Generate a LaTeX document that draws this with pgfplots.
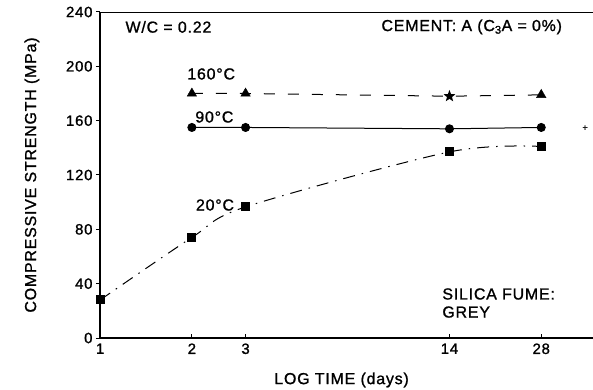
\documentclass[border=0pt]{standalone}
\usepackage{pgfplots}
\pgfplotsset{compat=1.18}
\usepackage{fontspec}
\setmainfont{Liberation Sans}[LetterSpace=5, FakeBold=1.2]
\pgfdeclareplotmark{fstar}{%
  \pgfpathmoveto{\pgfpointpolar{90}{1.3\pgfplotmarksize}}%
  \pgfpathlineto{\pgfpointpolar{126}{0.55\pgfplotmarksize}}%
  \pgfpathlineto{\pgfpointpolar{162}{1.3\pgfplotmarksize}}%
  \pgfpathlineto{\pgfpointpolar{198}{0.55\pgfplotmarksize}}%
  \pgfpathlineto{\pgfpointpolar{234}{1.3\pgfplotmarksize}}%
  \pgfpathlineto{\pgfpointpolar{270}{0.55\pgfplotmarksize}}%
  \pgfpathlineto{\pgfpointpolar{306}{1.3\pgfplotmarksize}}%
  \pgfpathlineto{\pgfpointpolar{342}{0.55\pgfplotmarksize}}%
  \pgfpathlineto{\pgfpointpolar{18}{1.3\pgfplotmarksize}}%
  \pgfpathlineto{\pgfpointpolar{54}{0.55\pgfplotmarksize}}%
  \pgfpathclose\pgfusepathqfill}
\begin{document}
\fontsize{16}{19}\selectfont
\begin{tikzpicture}
\path[use as bounding box] (-100bp,-52bp) rectangle (493bp,338bp);
\begin{axis}[
  scale only axis, width=493bp, height=326bp,
  xmode=log, xmin=0.999, xmax=41.4, ymin=0, ymax=240,
  axis x line=bottom, axis y line=left,
  axis line style={-, line width=1.2bp},
  xtick={1,2,3,14,28}, xticklabels={1,2,3,14,28}, minor xtick={},
  ytick={0,40,80,120,160,200,240},
  tick align=inside, major tick length=4bp,
  tick style={line width=1bp, black},
  ytick style={xshift=-4bp},
  ticklabel style={font=\fontsize{15}{18}\selectfont},
  /pgf/number format/assume math mode=true,
  yticklabel style={xshift=-2bp},
  xlabel={LOG TIME (days)}, ylabel={COMPRESSIVE STRENGTH (MPa)},
  xlabel style={at={(axis description cs:0.49,0)}, anchor=center, yshift=-42bp},
  ylabel style={at={(axis description cs:-0.138,0.5)}, anchor=center},
  clip=false,
]
\draw[line width=0.9bp] (rel axis cs:0,1) -- (rel axis cs:1,1);
% 160 C
\addplot[black, line width=1bp, dash pattern=on 11bp off 13bp] coordinates {(2,180) (3,180) (14,178) (28,179)};
\addplot[black, only marks, mark=triangle*, mark size=5.5bp] coordinates {(2,180) (3,180) (28,179)};
\addplot[black, only marks, mark=fstar, mark size=4.8bp] coordinates {(14,178)};
% 90 C
\addplot[black, line width=1bp, mark=*, mark size=4bp] coordinates {(2,155) (3,155) (14,154) (28,155)};
% 20 C
\addplot[black, line width=1bp, smooth, dash pattern=on 12bp off 7bp on 1.5bp off 7bp, mark=square*, mark size=4bp, mark options={solid}] coordinates {(1,28) (2,74) (3,96.5) (14,137) (28,141)};
\node[anchor=west, inner sep=0pt] at (axis cs:1.21,229) {W/C = 0.22};
\node[anchor=east, inner sep=0pt] at (axis cs:32.8,229) {CEMENT: A (C\textsubscript{3}A = 0\%)};
\node[anchor=west, inner sep=0pt] at (axis cs:1.93,194.4) {160°C};
\node[anchor=west, inner sep=0pt] at (axis cs:2.05,162.7) {90°C};
\node[anchor=west, inner sep=0pt] at (axis cs:2.06,97.9) {20°C};
\node[anchor=west, inner sep=0pt] at (axis cs:13.25,32.4) {SILICA FUME:};
\node[anchor=west, inner sep=0pt] at (axis cs:13.25,19.1) {GREY};
\node[inner sep=0pt, font=\fontsize{9}{10}\selectfont] at (axis cs:39,154.6) {+};
\end{axis}
\end{tikzpicture}
\end{document}
